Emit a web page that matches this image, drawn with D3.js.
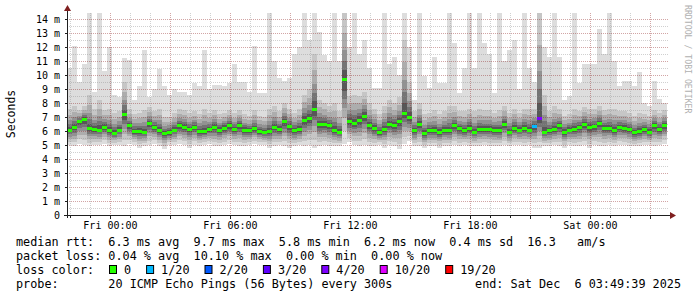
<!DOCTYPE html>
<html>
<head>
<meta charset="utf-8">
<script src="https://cdn.jsdelivr.net/npm/d3@7"></script>
<style>
  html, body { margin: 0; padding: 0; background: #fff; }
  svg { display: block; }
  text { font-family: "DejaVu Sans Mono", monospace; }
</style>
</head>
<body>
<div id="chart"></div>
<script>
// 15 minute buckets, Thu 21:49:39 -> Sat 03:49:39 (UTC used as wall clock)
const startTime = Date.UTC(2025, 11, 4, 21, 49, 39);
const endTime = Date.UTC(2025, 11, 6, 3, 49, 39);
const stepMs = 15 * 60 * 1000;

// median rtt, ms
const median = [
  6.1, 6.3, 6.7, 6.85, 6.2, 6.15, 6.1, 6.3, 6.1, 5.85,
  6.1, 7.2, 6.4, 6.0, 6.0, 5.95, 6.55, 6.3, 6.1, 5.85,
  5.9, 6.1, 6.4, 6.3, 6.15, 6.3, 6.0, 6.0, 6.15, 6.3,
  6.1, 6.25, 6.4, 6.15, 6.4, 6.1, 6.05, 6.2, 6.0, 5.95,
  6.0, 6.3, 6.15, 6.7, 6.35, 6.05, 6.15, 6.8, 6.9, 7.6,
  6.5, 6.5, 6.4, 6.1, 5.95, 9.7, 6.7, 6.6, 6.8, 7.1,
  6.45, 6.2, 5.9, 6.15, 6.5, 6.4, 6.7, 7.3, 7.0, 6.05,
  6.5, 5.85, 6.05, 6.05, 5.95, 6.1, 6.05, 6.4, 6.2, 6.05,
  6.25, 5.95, 6.15, 6.15, 6.15, 6.1, 6.05, 6.5, 5.95, 6.25,
  6.1, 6.25, 6.1, 6.35, 6.95, 5.95, 6.05, 6.15, 6.4, 5.95,
  6.1, 6.15, 6.3, 6.5, 6.3, 6.35, 6.55, 6.25, 6.25, 6.1,
  6.3, 6.25, 6.15, 5.9, 6.0, 6.15, 5.95, 6.4, 6.15, 6.4
];
// highest ping of each bucket (top of the light smoke)
const pingMax = [
  10.5, 12.1, 9.5, 10.8, 14.4, 8.8, 14.4, 10.3, 12.0, 8.6,
  8.4, 11.2, 11.1, 8.2, 9.2, 11.8, 8.4, 9.0, 10.4, 9.2,
  8.6, 9.0, 8.8, 8.8, 8.6, 9.4, 9.2, 11.8, 9.0, 9.3,
  9.3, 9.2, 9.4, 10.8, 9.5, 9.5, 8.8, 12.1, 8.7, 8.7,
  14.4, 11.0, 9.8, 9.6, 9.8, 11.5, 12.0, 14.4, 12.5, 14.4,
  13.1, 11.4, 11.0, 14.4, 11.0, 14.4, 12.0, 14.4, 11.5, 12.5,
  10.5, 9.1, 9.1, 14.4, 10.8, 11.3, 10.0, 14.4, 12.0, 8.2,
  14.4, 9.9, 9.1, 11.3, 9.4, 9.4, 14.4, 12.3, 8.7, 10.5,
  14.4, 10.5, 14.4, 12.3, 11.5, 8.7, 14.4, 11.0, 11.8, 12.5,
  9.0, 14.4, 10.5, 9.5, 14.4, 12.0, 11.3, 14.4, 11.3, 8.2,
  8.5, 14.4, 9.4, 10.8, 10.8, 10.8, 13.3, 11.5, 14.4, 11.0,
  9.2, 9.6, 9.6, 9.2, 10.2, 8.0, 7.8, 9.6, 8.3, 8.0
];
// upper edge of the medium grey smoke
const pingUpper = [
  7.6, 7.8, 7.5, 7.8, 8.6, 7.6, 8.2, 7.5, 7.6, 7.3,
  7.4, 9.5, 7.6, 7.2, 7.3, 7.5, 7.7, 7.4, 7.6, 7.0,
  7.0, 7.3, 7.6, 7.5, 7.3, 7.4, 7.2, 7.6, 7.3, 7.5,
  7.2, 7.3, 7.5, 7.3, 7.5, 7.2, 7.1, 7.5, 7.1, 7.0,
  7.6, 7.8, 7.4, 8.0, 7.6, 7.3, 7.6, 8.6, 9.0, 11.5,
  8.2, 8.0, 7.8, 8.0, 7.4, 14.4, 8.5, 8.6, 8.5, 8.8,
  8.0, 7.6, 7.2, 7.8, 8.2, 8.0, 8.4, 12.5, 9.5, 7.4,
  8.0, 7.2, 7.3, 7.5, 7.2, 7.4, 7.8, 7.8, 7.4, 7.4,
  7.6, 7.4, 7.6, 7.5, 7.5, 7.3, 7.5, 7.8, 7.3, 7.6,
  7.3, 7.6, 7.6, 7.6, 14.4, 8.6, 7.4, 7.8, 7.6, 7.1,
  7.2, 7.6, 7.4, 7.7, 7.6, 7.6, 7.8, 7.5, 7.6, 7.6,
  7.4, 7.4, 7.3, 7.1, 7.3, 7.2, 7.1, 7.5, 7.3, 7.5
];
// lowest ping of each bucket
const pingMin = [
  5.0, 4.9, 5.1, 5.0, 4.9, 5.0, 5.0, 5.1, 4.9, 5.0,
  5.0, 4.9, 5.1, 5.0, 4.8, 4.9, 5.0, 5.1, 4.9, 4.7,
  5.0, 5.0, 5.1, 5.0, 4.8, 5.0, 4.9, 5.0, 5.1, 4.9,
  4.9, 5.0, 5.1, 5.0, 4.9, 4.9, 5.0, 5.1, 5.0, 5.0,
  4.8, 4.9, 5.0, 4.9, 4.8, 4.9, 5.0, 4.9, 5.0, 4.8,
  4.9, 5.0, 4.9, 4.9, 4.9, 5.1, 5.2, 5.0, 4.9, 5.0,
  4.9, 4.9, 5.0, 4.8, 5.0, 4.9, 4.7, 5.1, 5.3, 4.9,
  4.9, 4.8, 4.9, 4.9, 4.8, 4.9, 4.9, 5.0, 4.9, 5.0,
  4.9, 4.9, 4.9, 5.0, 4.9, 4.9, 4.9, 5.0, 4.9, 5.0,
  5.0, 4.9, 5.0, 4.8, 4.8, 4.9, 4.9, 5.0, 4.9, 4.8,
  5.0, 4.9, 4.9, 5.0, 4.8, 5.0, 4.9, 4.9, 5.0, 4.9,
  5.0, 5.0, 4.9, 4.9, 4.9, 5.0, 5.0, 4.9, 5.0, 5.1
];
// buckets with packet loss (index, lost pings out of 20)
const lossIndex = [93, 94];
const lossCount = [1, 4];

const yTicks = [0, 1, 2, 3, 4, 5, 6, 7, 8, 9, 10, 11, 12, 13, 14];
const lossLevels = [0, 1, 2, 3, 4, 10, 19];
const lossLabels = ['0', '1/20', '2/20', '3/20', '4/20', '10/20', '19/20'];
const lossColors = ['#26ff00', '#00b8ff', '#0059ff', '#5e00ff', '#7e00ff', '#dd00ff', '#ff0000'];

const legendRtt = 'median rtt:  6.3 ms avg  9.7 ms max  5.8 ms min  6.2 ms now  0.4 ms sd  16.3   am/s';
const legendLoss = 'packet loss: 0.04 % avg  10.10 % max  0.00 % min  0.00 % now';
const legendProbe = 'probe:       20 ICMP Echo Pings (56 Bytes) every 300s';
const legendEnd = 'end: Sat Dec  6 03:49:39 2025';

const W = 697, H = 297;
const plotL = 67, plotR = 667, plotB = 215, plotT = 13;
const gridColor = 'rgba(143,143,143,0.42)';
const mgridColor = 'rgba(143,31,31,0.40)';
const arrowColor = '#7f1f1f';

// svg collapses runs of spaces, rrdtool legends rely on them
const keepSpaces = s => s.replace(/ /g, '\u00a0');

const svg = d3.select('#chart').append('svg')
    .attr('width', W)
    .attr('height', H);
svg.append('rect')
    .attr('width', W)
    .attr('height', H)
    .attr('fill', '#ffffff');

const x = d3.scaleUtc().domain([startTime, endTime]).range([plotL, plotR]);
const y = d3.scaleLinear().domain([0, 14.43]).range([plotB, plotT]);

const buckets = median.map((m, i) => {
    const k = lossIndex.indexOf(i);
    return {
        t0: startTime + i * stepMs,
        t1: startTime + (i + 1) * stepMs,
        med: m, hi: pingMax[i], up: pingUpper[i], lo: pingMin[i],
        loss: k < 0 ? 0 : lossCount[k]
    };
});

// smoke: outer layers light, inner layers dark
const greys = ['#dddddd', '#c6c6c6', '#adadad', '#929292', '#747474', '#575757'];
const lowFrac = [0, 0.2, 0.4, 0.55, 0.7, 0.82];
const upFrac = [null, null, 0.7, 0.45, 0.28, 0.14];
const smoke = svg.append('g').attr('shape-rendering', 'crispEdges');
greys.forEach((c, k) => {
    const hiOf = d => Math.min(k === 0 ? d.hi : k === 1 ? d.up : d.med + (d.up - d.med) * upFrac[k], 14.43);
    const loOf = d => d.lo + (d.med - d.lo) * lowFrac[k];
    smoke.append('g')
        .attr('fill', c)
        .selectAll('rect')
        .data(buckets)
        .enter()
        .append('rect')
        .attr('x', d => Math.round(x(d.t0)))
        .attr('width', d => Math.round(x(d.t1)) - Math.round(x(d.t0)))
        .attr('y', d => Math.round(y(hiOf(d))))
        .attr('height', d => Math.round(y(loOf(d))) - Math.round(y(hiOf(d))));
});

// grid (dotted, on top of the smoke like rrdtool)
const grid = svg.append('g').attr('shape-rendering', 'crispEdges');
const halfTicks = d3.range(0.5, 14.01, 1);
grid.selectAll('.hmin')
    .data(halfTicks)
    .enter()
    .append('line')
    .attr('x1', plotL).attr('x2', plotR + 1)
    .attr('y1', d => Math.round(y(d)) + 0.5).attr('y2', d => Math.round(y(d)) + 0.5)
    .attr('stroke', gridColor)
    .attr('stroke-dasharray', '1,1');
grid.selectAll('.hmaj')
    .data(yTicks.slice(1))
    .enter()
    .append('line')
    .attr('x1', plotL).attr('x2', plotR + 1)
    .attr('y1', d => Math.round(y(d)) + 0.5).attr('y2', d => Math.round(y(d)) + 0.5)
    .attr('stroke', mgridColor)
    .attr('stroke-dasharray', '1,1');
const hours = d3.utcHour.every(1).range(startTime, endTime);
grid.selectAll('.v')
    .data(hours)
    .enter()
    .append('line')
    .attr('x1', d => Math.round(x(d)) + 0.5).attr('x2', d => Math.round(x(d)) + 0.5)
    .attr('y1', plotT).attr('y2', plotB)
    .attr('stroke', d => d.getUTCHours() % 3 === 0 ? mgridColor : gridColor)
    .attr('stroke-dasharray', '1,1');

// median line coloured by loss
const lossColor = n => {
    let c = lossColors[0];
    lossLevels.forEach((lv, i) => { if (n >= lv) c = lossColors[i]; });
    return c;
};
svg.append('g')
    .attr('shape-rendering', 'crispEdges')
    .selectAll('rect')
    .data(buckets)
    .enter()
    .append('rect')
    .attr('x', d => Math.round(x(d.t0)))
    .attr('width', d => Math.round(x(d.t1)) - Math.round(x(d.t0)))
    .attr('y', d => Math.round(y(d.med)) - 1)
    .attr('height', 3)
    .attr('fill', d => lossColor(d.loss));

// axes
const axis = svg.append('g').attr('shape-rendering', 'crispEdges');
axis.append('line')
    .attr('x1', plotL - 3).attr('x2', plotR + 3)
    .attr('y1', plotB + 0.5).attr('y2', plotB + 0.5)
    .attr('stroke', '#1f1f1f');
axis.append('line')
    .attr('x1', plotL + 0.5).attr('x2', plotL + 0.5)
    .attr('y1', plotB + 3).attr('y2', plotT - 3)
    .attr('stroke', '#1f1f1f');
axis.selectAll('.yt')
    .data(yTicks)
    .enter()
    .append('line')
    .attr('x1', plotL - 2).attr('x2', plotL)
    .attr('y1', d => Math.round(y(d)) + 0.5).attr('y2', d => Math.round(y(d)) + 0.5)
    .attr('stroke', '#1f1f1f');
axis.selectAll('.xt')
    .data(hours)
    .enter()
    .append('line')
    .attr('x1', d => Math.round(x(d)) + 0.5).attr('x2', d => Math.round(x(d)) + 0.5)
    .attr('y1', plotB + 1).attr('y2', d => d.getUTCHours() % 3 === 0 ? plotB + 4 : plotB + 3)
    .attr('stroke', '#1f1f1f');
svg.append('path')
    .attr('d', `M${plotL - 3},${plotT - 2}L${plotL + 0.5},${plotT - 8}L${plotL + 4},${plotT - 2}Z`)
    .attr('fill', arrowColor);
svg.append('path')
    .attr('d', `M${plotR + 3},${plotB - 3}L${plotR + 9},${plotB + 0.5}L${plotR + 3},${plotB + 4}Z`)
    .attr('fill', arrowColor);

// tick labels
svg.append('g')
    .selectAll('text')
    .data(yTicks)
    .enter()
    .append('text')
    .attr('x', 60)
    .attr('y', d => y(d) + 3.5)
    .attr('text-anchor', 'end')
    .attr('font-size', '10px')
    .text(d => keepSpaces(d === 0 ? '0' : d + ' m'));
const fmt = d3.utcFormat('%a %H:%M');
svg.append('g')
    .selectAll('text')
    .data(hours.filter(d => d.getUTCHours() % 6 === 0))
    .enter()
    .append('text')
    .attr('x', d => x(d))
    .attr('y', 229)
    .attr('text-anchor', 'middle')
    .attr('font-size', '10px')
    .text(d => fmt(d));

svg.append('text')
    .attr('transform', 'translate(15,114) rotate(-90)')
    .attr('text-anchor', 'middle')
    .attr('font-size', '11.5px')
    .text('Seconds');
svg.append('text')
    .attr('transform', 'translate(685,5) rotate(90)')
    .attr('font-size', '8.2px')
    .attr('fill', '#b0b0b0')
    .text('RRDTOOL / TOBI OETIKER');

// legend
const legend = svg.append('g').attr('font-size', '11.8px');
legend.append('text').attr('x', 16).attr('y', 245.5).text(keepSpaces(legendRtt));
legend.append('text').attr('x', 16).attr('y', 259.5).text(keepSpaces(legendLoss));
legend.append('text').attr('x', 16).attr('y', 273.5).text('loss color:');
legend.append('text').attr('x', 16).attr('y', 287.5).text(keepSpaces(legendProbe));
legend.append('text').attr('x', 681).attr('y', 287.5).attr('text-anchor', 'end').text(keepSpaces(legendEnd));

let lx = 109;
lossLabels.forEach((lab, i) => {
    legend.append('rect')
        .attr('x', lx + 0.5).attr('y', 265.5)
        .attr('width', 7).attr('height', 8)
        .attr('fill', lossColors[i])
        .attr('stroke', '#000');
    legend.append('text').attr('x', lx + 15).attr('y', 273.5).text(lab);
    lx += 15 + lab.length * 7.1 + 15;
});
</script>
</body>
</html>
